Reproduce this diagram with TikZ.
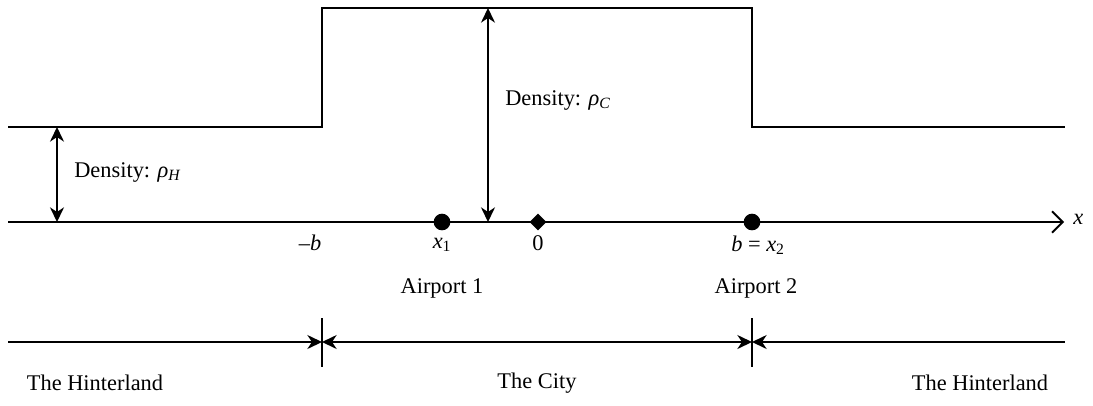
\documentclass[tikz,border=0pt]{standalone}
\usepackage{fontspec}
\setmainfont{Liberation Serif}
\usetikzlibrary{arrows.meta,shapes.geometric}
\tikzset{
	lbl/.style={font=\fontsize{16.8}{19}\selectfont, inner sep=1pt},
	dim/.style={{Stealth[length=11pt,width=10.5pt,inset=3.5pt]}-{Stealth[length=11pt,width=10.5pt,inset=3.5pt]}},
	airport/.style={circle, fill, inner sep=0pt, minimum size=12.5pt},
}
\newcommand{\vv}[1]{\textit{#1}}
\begin{document}
\begin{tikzpicture}[x=0.75pt, y=-0.75pt, line width=1.4pt]
		\useasboundingbox (0,0) rectangle (1093,405);
		% density profile
		\coordinate (hl) at (8,127);
		\coordinate (hr) at (1065,127);
		\draw (hl) -- (322,127) -- (322,8) -- (752,8) -- (752,127) -- (hr);
		% x axis
		\coordinate (ax0) at (8,222);
		\coordinate (ax1) at (1064,222);
		\draw[-{Straight Barb[length=8pt,width=16pt]}] (ax0) -- (ax1);
		\node[lbl, anchor=west] (xl) at (1071,219) {\vv{x}};
		% density arrows
		\coordinate (dh1) at (57,127);
		\coordinate (dh0) at (57,222);
		\draw[dim] (dh1) -- (dh0);
		\node[lbl, anchor=west] (rhoH) at (72,172) {Density: \vv{ρ}\textsubscript{\vv{H}}};
		\coordinate (dc1) at (488,8);
		\coordinate (dc0) at (488,222);
		\draw[dim] (dc1) -- (dc0);
		\node[lbl, anchor=west] (rhoC) at (503,100) {Density: \vv{ρ}\textsubscript{\vv{C}}};
		% points on the axis
		\node[airport] (ap1) at (442,222) {};
		\node[airport] (ap2) at (752,222) {};
		\node[diamond, fill, inner sep=0pt, minimum width=13pt, minimum height=13pt] (orig) at (538,222) {};
		\node[lbl] (mb) at (310,243) {–\vv{b}};
		\node[lbl] (x1) at (442,245) {\vv{x}\textsubscript{1}};
		\node[lbl] (zero) at (538,243) {0};
		\node[lbl] (bx2) at (758,245) {\vv{b} = \vv{x}\textsubscript{2}};
		\node[lbl] (a1) at (442,288) {Airport 1};
		\node[lbl] (a2) at (756,288) {Airport 2};
		% regions
		\foreach \x in {322,752} \draw (\x,318) -- (\x,367);
		\coordinate (r0) at (8,342);
		\coordinate (r1) at (322,342);
		\coordinate (r2) at (752,342);
		\coordinate (r3) at (1065,342);
		\draw[-{Stealth[length=11pt,width=10.5pt,inset=3.5pt]}] (r0) -- (r1);
		\draw[dim] (r1) -- (r2);
		\draw[{Stealth[length=11pt,width=10.5pt,inset=3.5pt]}-] (r2) -- (r3);
		\node[lbl] (hint1) at (95,383) {The Hinterland};
		\node[lbl] (city) at (537,383) {The City};
		\node[lbl] (hint2) at (980,383) {The Hinterland};
	\end{tikzpicture}
\end{document}
